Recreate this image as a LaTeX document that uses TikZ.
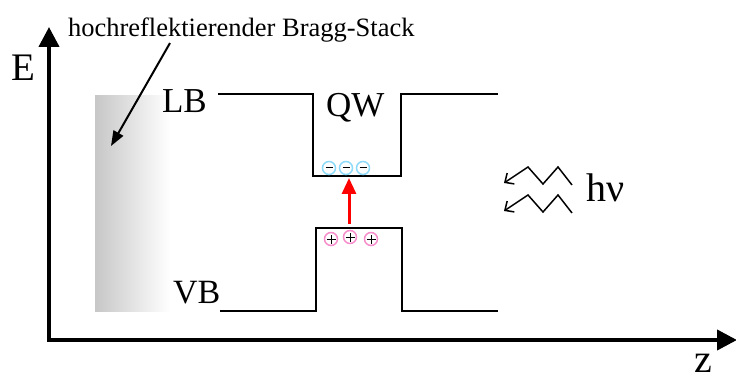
\documentclass[tikz,border=0pt]{standalone}
\usepackage{fontspec}
\setmainfont{Liberation Serif}
\usetikzlibrary{arrows.meta}
\tikzset{
  axis/.style={line width=4pt,-{Triangle[length=20pt,width=20pt]}},
  band/.style={line width=2.4pt,line cap=rect},
  lbl/.style={anchor=base west,inner sep=0pt,outer sep=0pt},
  elec/.style={circle,draw=cyan!45,line width=1.5pt,minimum size=13pt,inner sep=0pt},
  hole/.style={circle,draw=magenta!45,line width=1.5pt,minimum size=13pt,inner sep=0pt},
  sgn/.style={line width=1pt,black},
  photon/.style={line width=1.5pt,line join=miter,-{Straight Barb[length=7pt,width=13pt,line width=1.5pt]}},
}
\begin{document}
\begin{tikzpicture}[x=1pt,y=-1pt]
\useasboundingbox (0,0) rectangle (736,374);
% Bragg stack
\shade[left color=black!22,right color=white] (95,96) rectangle (170,311);
% axes
\coordinate (o) at (49,340);
\coordinate (ytop) at (49,27);
\coordinate (xend) at (737,340);
\draw[axis] ([yshift=2pt]o) -- (ytop);
\draw[axis] ([xshift=-2pt]o) -- (xend);
% labels
\node[lbl,font=\fontsize{26.5}{26.5}\selectfont] (bragg) at (68,37) {hochreflektierender Bragg-Stack};
\node[lbl,font=\fontsize{39}{39}\selectfont] (E) at (12,81) {E};
\node[lbl,font=\fontsize{35}{35}\selectfont] (LB) at (162,113) {LB};
\node[lbl,font=\fontsize{35}{35}\selectfont] (QW) at (326,117) {QW};
\node[lbl,font=\fontsize{34}{34}\selectfont] (VB) at (173,303) {VB};
\node[lbl,font=\fontsize{40}{40}\selectfont] (hv) at (586,201) {hν};
\node[lbl,font=\fontsize{40}{40}\selectfont] (z) at (694,372) {z};
% Bragg arrow
\coordinate (bs) at (170,43);
\coordinate (be) at (111,146);
\draw[line width=2pt,-{Triangle[length=15pt,width=11pt]}] (bs) -- (be);
% conduction band
\draw[band] (219,94) -- (313,94) -- (313,176) -- (401,176) -- (401,94) -- (497,94);
% valence band
\draw[band] (221,311) -- (316,311) -- (316,228) -- (402,228) -- (402,311) -- (497,311);
% electrons
\foreach \n/\x in {1/329,2/346,3/363}{
  \node[elec] (e\n) at (\x,168) {};
  \draw[sgn] ([xshift=-3.5pt]e\n.center) -- ([xshift=3.5pt]e\n.center);
}
% holes
\node[hole] (h1) at (331,239) {};
\node[hole] (h2) at (350,237) {};
\node[hole] (h3) at (371,239) {};
\foreach \n in {1,2,3}{
  \draw[sgn] ([xshift=-4.5pt]h\n.center) -- ([xshift=4.5pt]h\n.center);
  \draw[sgn] ([yshift=-4.5pt]h\n.center) -- ([yshift=4.5pt]h\n.center);
}
% excitation arrow
\coordinate (ra) at (349,224);
\coordinate (rb) at (349,178);
\draw[red,line width=3pt,-{Triangle[length=16pt,width=14pt]}] (ra) -- (rb);
% photons
\coordinate (p1) at (572,185);
\coordinate (p2) at (572,213);
\draw[photon] (p1) -- ++(-14,-18) -- ++(-15,17) -- ++(-15,-17) -- ++(-24,16);
\draw[photon] (p2) -- ++(-14,-18) -- ++(-15,17) -- ++(-15,-17) -- ++(-24,16);
\end{tikzpicture}
\end{document}
